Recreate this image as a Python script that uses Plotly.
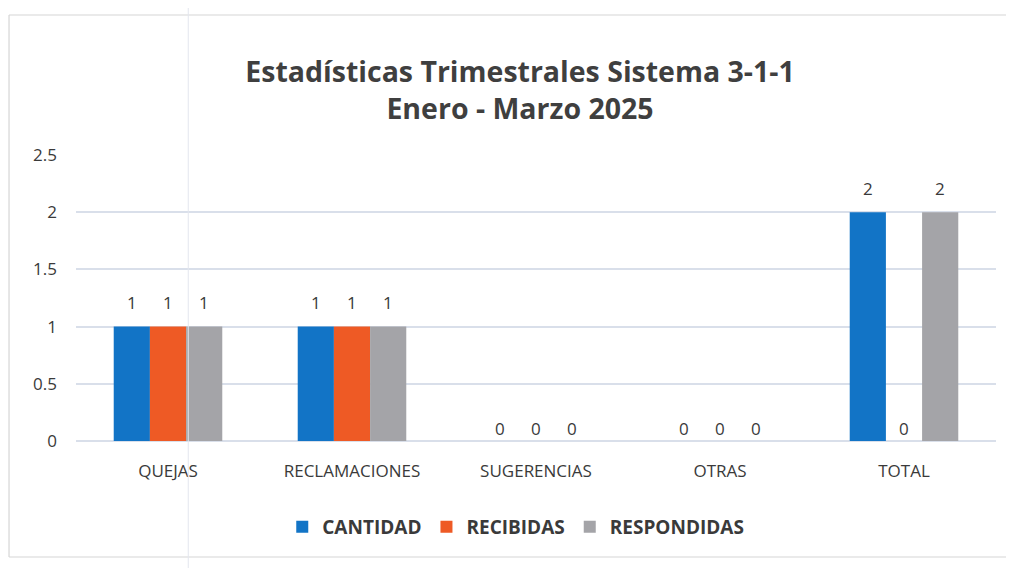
import plotly.graph_objects as go

categories = ["QUEJAS", "RECLAMACIONES", "SUGERENCIAS", "OTRAS", "TOTAL"]
cantidad = [1, 1, 0, 0, 2]
recibidas = [1, 1, 0, 0, 0]
respondidas = [1, 1, 0, 0, 2]
series_names = ["CANTIDAD", "RECIBIDAS", "RESPONDIDAS"]
colors = ["#1274C6", "#EE5A25", "#A4A4A8"]
y_ticks = [0, 0.5, 1, 1.5, 2, 2.5]

FONT = "Open Sans"
TXT = "#3a3a3a"

fig = go.Figure()
all_series = [cantidad, recibidas, respondidas]
for name, vals, col in zip(series_names, all_series, colors):
    fig.add_trace(go.Bar(
        x=categories, y=vals, name="<b>" + name + "</b>", marker_color=col,
        marker_line_width=0,
    ))

# data labels
shifts = [-36, 0, 36]
for vals, xs in zip(all_series, shifts):
    for cat, v in zip(categories, vals):
        fig.add_annotation(
            x=cat, y=v, xref="x", yref="y", text=str(v), showarrow=False,
            xshift=xs, yshift=(24 if v else 13), yanchor="middle",
            font=dict(family=FONT, size=17, color=TXT),
        )

fig.update_layout(
    width=1006, height=560,
    paper_bgcolor="white", plot_bgcolor="white",
    margin=dict(l=68, r=18, t=147, b=127),
    barmode="group", bargap=0.41, bargroupgap=0,
    title=dict(
        text="<b>Estadísticas Trimestrales Sistema 3-1-1<br>Enero - Marzo 2025</b>",
        x=0.509, xanchor="center", y=0.868, yanchor="middle",
        font=dict(family=FONT, size=28.5, color="#3f3f3f"),
    ),
    xaxis=dict(
        showline=False, showgrid=False, ticks="", ticklabelstandoff=18,
        tickfont=dict(family=FONT, size=17, color=TXT),
    ),
    yaxis=dict(
        range=[0, 2.5], tickvals=y_ticks, ticktext=[str(t) for t in y_ticks],
        showgrid=True, gridcolor="#D9DFEA", gridwidth=1.5,
        zeroline=True, zerolinecolor="#D9DFEA", zerolinewidth=1.5,
        showline=False, ticks="", ticklabelstandoff=18,
        tickfont=dict(family=FONT, size=17, color=TXT),
    ),
    legend=dict(
        orientation="h", x=0.478, xanchor="center", y=-0.30, yanchor="middle",
        font=dict(family=FONT, size=19, color=TXT),
        itemwidth=30, traceorder="normal",
    ),
)

# chart frame (top, left, bottom) and faint scan line
frame = dict(color="#D6D6D6", width=1.2)
fig.add_shape(type="line", xref="paper", yref="paper", x0=-0.0728, x1=1.1, y0=1.4895, y1=1.4895, line=frame)
fig.add_shape(type="line", xref="paper", yref="paper", x0=-0.0728, x1=-0.0728, y0=-0.4056, y1=1.4895, line=frame)
fig.add_shape(type="line", xref="paper", yref="paper", x0=-0.0728, x1=1.1, y0=-0.4056, y1=-0.4056, line=frame)
fig.add_shape(type="line", xref="paper", yref="paper", x0=0.122, x1=0.122, y0=-0.48, y1=1.55,
              line=dict(color="#E3E6EE", width=1))

fig.write_html("out.html")
